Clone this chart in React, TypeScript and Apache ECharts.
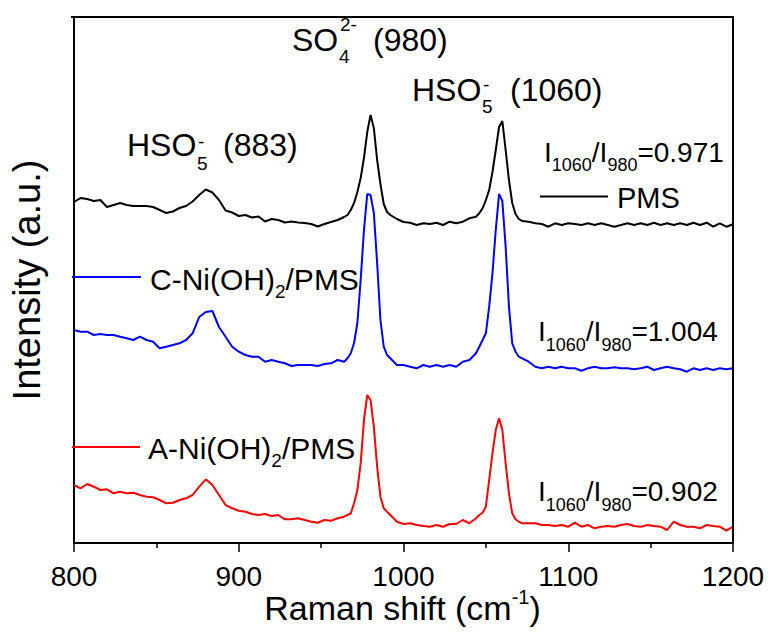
import React, { useEffect, useRef } from 'react';
import * as echarts from 'echarts';

// Raman shift (cm-1) sample positions
const WAVENUMBERS = [
  800, 804, 808, 812, 816, 820, 824, 828, 832, 836,
  840, 844, 848, 852, 856, 860, 864, 868, 872, 876,
  880, 884, 888, 892, 896, 900, 904, 908, 912, 916,
  920, 924, 928, 932, 936, 940, 944, 948, 952, 956,
  960, 964,
  966, 968, 970, 972, 974, 976, 978, 980, 982, 984, 986, 988, 990, 992,
  996, 1000, 1004, 1008, 1012, 1016, 1020, 1024, 1028, 1032, 1036, 1040, 1044,
  1046, 1048, 1050, 1052, 1054, 1056, 1058, 1060, 1062, 1064, 1066, 1068, 1070, 1072,
  1076, 1080, 1084, 1088, 1092, 1096, 1100, 1104, 1108, 1112, 1116, 1120, 1124, 1128,
  1132, 1136, 1140, 1144, 1148, 1152, 1156, 1160, 1164, 1168, 1172, 1176, 1180, 1184,
  1188, 1192, 1196, 1200,
];

// Intensity (a.u., offset traces)
const PMS = [
  341, 345, 344, 342, 343, 336, 338, 340, 338, 337,
  337, 337, 336, 333, 330, 331.5, 335, 337, 341.5, 348,
  353.5, 350.5, 343, 332.5, 330.5, 327, 328, 325.5, 326.5, 321.5,
  324, 323, 320.5, 321.5, 320.5, 320, 319, 316.5, 319, 321,
  323, 326,
  328, 333, 340, 351, 365, 385, 411, 428, 415, 383, 359, 339, 331, 328,
  324, 321, 320.3, 318, 319.7, 319, 320.3, 318, 321.3, 319.7, 321.3, 324.7, 326.3,
  329.7, 334.7, 343, 353, 371, 393, 416, 422, 393, 363, 340, 329, 324, 322,
  321.3, 319.7, 319, 316.3, 319.7, 318, 319.7, 319, 318, 319.7, 318, 319.7, 318, 316.3,
  318, 319.7, 318, 319.7, 318, 320.3, 318, 319.7, 318, 319.7, 318, 320.3, 318, 320.3,
  316.3, 319.7, 316.3, 318.7,
];

const C_NIOH2_PMS = [
  213, 211.3, 211.3, 208, 209, 208, 208, 206.3, 204.7, 203,
  206.3, 203, 201.3, 194.7, 196.3, 198, 199.7, 203, 209.7, 226,
  231, 232, 216, 206.3, 196.3, 191.3, 188, 186.3, 186.3, 181.3,
  183, 181.3, 179.7, 177, 178, 178, 178, 177, 179, 179.7,
  183, 181.3,
  184.7, 189.7, 200, 220, 263, 313, 349, 348, 330, 280, 223, 196.3, 188, 184.7,
  178, 178, 176.3, 174.7, 178, 176.3, 178, 176.3, 178, 176.3, 181.3, 183, 189.7,
  196.3, 203, 209.7, 236.3, 269.7, 313, 349, 342, 296.3, 236.3, 199.7, 191.3, 186.3, 184.7,
  181.3, 176.3, 174.7, 176.3, 174.7, 176.3, 174.7, 174.7, 172.3, 174.7, 176.3, 174.7, 174.7, 175.7,
  174.7, 174.7, 173.7, 174.7, 176.3, 173, 174.7, 176.3, 174.7, 173.7, 171.3, 174.7, 173, 174.7,
  173, 174.7, 173.7, 174.7,
];

const A_NIOH2_PMS = [
  58, 54.7, 59, 56.3, 53, 53.7, 49.7, 51.3, 49.7, 50.3,
  48, 46.3, 45.7, 43, 39.7, 40.3, 43, 44.7, 48, 56.3,
  63.7, 58, 48, 38, 34.7, 32.3, 31.3, 29, 28, 29,
  27, 28, 23.7, 23.7, 24.7, 23, 21.3, 20.3, 23, 22.3,
  24.7, 26.3,
  28, 29.7, 39.7, 53, 79.7, 123, 148, 143, 116.3, 76.3, 46.3, 34.7, 31.3, 28,
  21.3, 19, 19.7, 18, 17, 16.3, 18, 16.3, 19, 19, 23, 19.7, 24.7,
  28, 30.3, 36.3, 63, 89.7, 113, 124.7, 113, 79.7, 49.7, 29.7, 23.7, 21.3, 19.7,
  19.7, 19.7, 18, 18, 17, 18, 16.3, 20.3, 16.3, 18, 14.7, 16.3, 17, 16.3,
  18, 19, 17, 16.3, 18, 17, 16.3, 13, 21.3, 18, 16.3, 16.3, 14.7, 18,
  17, 16.3, 12.3, 16.3,
];

const X_MIN = 800;
const X_MAX = 1200;
const X_INTERVAL = 100;
const Y_MIN = 0;
const Y_MAX = 526;

const GRID = { left: 72, right: 39, top: 17, bottom: 90 };
const WIDTH = 772;
const HEIGHT = 633;

const FONT = '"Liberation Sans", Arial, Helvetica, sans-serif';

let measureCtx: CanvasRenderingContext2D | null = null;
function measure(text: string, size: number): number {
  if (!measureCtx) {
    const c = document.createElement('canvas');
    measureCtx = c.getContext('2d');
  }
  if (!measureCtx) return text.length * size * 0.55;
  measureCtx.font = `${size}px ${FONT}`;
  return measureCtx.measureText(text).width;
}

type Seg = { text: string; size: number; dy?: number; x?: number };

function textEl(x: number, y: number, text: string, size: number) {
  return {
    type: 'text',
    x,
    y,
    silent: true,
    style: {
      text,
      fill: '#000',
      fontSize: size,
      fontFamily: FONT,
      textAlign: 'left',
      verticalAlign: 'middle',
      textVerticalAlign: 'middle',
    },
  };
}

// flowing label: segments placed one after another
function flowLabel(x: number, y: number, segs: Seg[], center = false) {
  const widths = segs.map((s) => measure(s.text, s.size));
  const total = widths.reduce((a, b) => a + b, 0);
  let cx = center ? x - total / 2 : x;
  const children: any[] = [];
  segs.forEach((s, i) => {
    children.push(textEl(cx, y + (s.dy || 0), s.text, s.size));
    cx += widths[i];
  });
  return { type: 'group', children };
}

// absolute label: each segment at its own x
function absLabel(y: number, segs: Seg[]) {
  return {
    type: 'group',
    children: segs.map((s) => textEl(s.x as number, y + (s.dy || 0), s.text, s.size)),
  };
}

function segLine(x1: number, y1: number, x2: number, y2: number, color: string, width: number) {
  return {
    type: 'line',
    silent: true,
    z: 10,
    shape: { x1, y1, x2, y2 },
    style: { stroke: color, lineWidth: width },
  };
}

function pairs(ys: number[]) {
  return WAVENUMBERS.map((w, i) => [w, ys[i]]);
}

export default function App() {
  const ref = useRef<HTMLDivElement>(null);

  useEffect(() => {
    if (!ref.current) return;
    const chart = echarts.init(ref.current, undefined, { renderer: 'svg' });

    const x0 = GRID.left;
    const x1 = WIDTH - GRID.right;
    const y0 = GRID.top;
    const y1 = HEIGHT - GRID.bottom;

    const option: any = {
      animation: false,
      backgroundColor: '#fff',
      textStyle: { fontFamily: FONT },
      grid: { ...GRID, containLabel: false },
      xAxis: {
        type: 'value',
        min: X_MIN,
        max: X_MAX,
        interval: X_INTERVAL,
        axisLine: { show: true, onZero: false, lineStyle: { color: '#000', width: 2 } },
        axisTick: { show: true, inside: false, length: 9, lineStyle: { color: '#000', width: 1.5 } },
        minorTick: { show: true, splitNumber: 2, length: 5, lineStyle: { color: '#000', width: 1.5 } },
        axisLabel: {
          show: true,
          color: '#000',
          fontSize: 28,
          fontFamily: FONT,
          margin: 19,
          formatter: (v: number) => String(v),
        },
        splitLine: { show: false },
      },
      yAxis: {
        type: 'value',
        min: Y_MIN,
        max: Y_MAX,
        name: 'Intensity (a.u.)',
        nameLocation: 'middle',
        nameRotate: 90,
        nameGap: 28,
        nameTextStyle: { color: '#000', fontSize: 38, fontFamily: FONT },
        axisLine: { show: true, onZero: false, lineStyle: { color: '#000', width: 2 } },
        axisTick: { show: false },
        axisLabel: { show: false },
        splitLine: { show: false },
      },
      series: [
        {
          name: 'PMS',
          type: 'line',
          data: pairs(PMS),
          showSymbol: false,
          symbol: 'none',
          lineStyle: { color: '#000', width: 2 },
          itemStyle: { color: '#000' },
        },
        {
          name: 'C-Ni(OH)2/PMS',
          type: 'line',
          data: pairs(C_NIOH2_PMS),
          showSymbol: false,
          symbol: 'none',
          lineStyle: { color: '#0000ff', width: 2 },
          itemStyle: { color: '#0000ff' },
        },
        {
          name: 'A-Ni(OH)2/PMS',
          type: 'line',
          data: pairs(A_NIOH2_PMS),
          showSymbol: false,
          symbol: 'none',
          lineStyle: { color: '#ff0000', width: 2 },
          itemStyle: { color: '#ff0000' },
        },
      ],
      graphic: [
        // plot frame: top and right edges
        segLine(x0 - 1, y0, x1 + 1, y0, '#000', 2),
        segLine(x1, y0, x1, y1, '#000', 2),
        // x axis title
        flowLabel(402.5, 608, [
          { text: 'Raman shift (cm', size: 34 },
          { text: '-1', size: 20, dy: -11 },
          { text: ')', size: 34 },
        ], true),
        // peak labels
        absLabel(39.5, [
          { text: 'SO', size: 32, x: 292 },
          { text: '4', size: 19, x: 339, dy: 17 },
          { text: '2-', size: 19, x: 340, dy: -15 },
          { text: '(980)', size: 32, x: 373 },
        ]),
        absLabel(89.5, [
          { text: 'HSO', size: 32, x: 412 },
          { text: '5', size: 19, x: 482, dy: 17 },
          { text: '-', size: 19, x: 483, dy: -5 },
          { text: '(1060)', size: 32, x: 510 },
        ]),
        absLabel(145, [
          { text: 'HSO', size: 32, x: 127 },
          { text: '5', size: 19, x: 197, dy: 18 },
          { text: '-', size: 19, x: 198, dy: -4 },
          { text: '(883)', size: 32, x: 223 },
        ]),
        // ratio labels
        flowLabel(544, 152, [
          { text: 'I', size: 28 },
          { text: '1060', size: 18, dy: 13 },
          { text: '/I', size: 28 },
          { text: '980', size: 18, dy: 13 },
          { text: '=0.971', size: 28 },
        ]),
        flowLabel(538, 331.5, [
          { text: 'I', size: 28 },
          { text: '1060', size: 18, dy: 13 },
          { text: '/I', size: 28 },
          { text: '980', size: 18, dy: 13 },
          { text: '=1.004', size: 28 },
        ]),
        flowLabel(538, 491.5, [
          { text: 'I', size: 28 },
          { text: '1060', size: 18, dy: 13 },
          { text: '/I', size: 28 },
          { text: '980', size: 18, dy: 13 },
          { text: '=0.902', size: 28 },
        ]),
        // legend entries
        segLine(540, 196.5, 608, 196.5, '#000', 2),
        flowLabel(617, 197.5, [{ text: 'PMS', size: 29 }]),
        segLine(72, 277, 141, 277, '#0000ff', 2),
        flowLabel(150, 279, [
          { text: 'C-Ni(OH)', size: 30 },
          { text: '2', size: 19, dy: 12.5 },
          { text: '/PMS', size: 30 },
        ]),
        segLine(72, 447, 140, 447, '#ff0000', 2),
        flowLabel(148, 448, [
          { text: 'A-Ni(OH)', size: 30 },
          { text: '2', size: 19, dy: 12.5 },
          { text: '/PMS', size: 30 },
        ]),
      ],
    };

    chart.setOption(option);
    return () => {
      chart.dispose();
    };
  }, []);

  return (
    <div
      ref={ref}
      style={{ position: 'fixed', left: 0, top: 0, width: WIDTH, height: HEIGHT, background: '#fff' }}
    />
  );
}
